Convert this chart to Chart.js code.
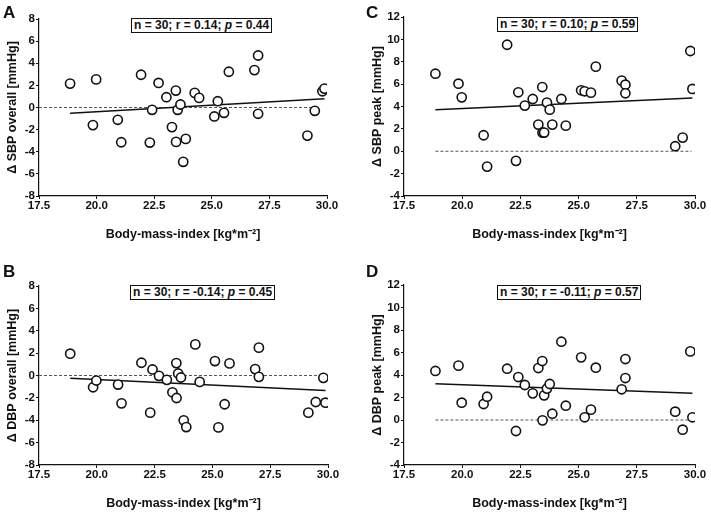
<!DOCTYPE html>
<html><head><meta charset="utf-8">
<script src="https://cdn.jsdelivr.net/npm/chart.js@4.4.1/dist/chart.umd.min.js"></script>
<style>
html,body{margin:0;padding:0;background:#fff;width:711px;height:514px;overflow:hidden;position:relative;font-family:"Liberation Sans",Arial,sans-serif;}
canvas{position:absolute;}
.lbl{position:absolute;font-weight:bold;font-size:17px;color:#111;line-height:1;}
.box{position:absolute;font-weight:bold;font-size:12px;color:#111;border:1.5px solid #111;line-height:13px;padding:0 2px;white-space:nowrap;background:#fff;}
</style></head><body>
<canvas id="cA"></canvas><canvas id="cB"></canvas><canvas id="cC"></canvas><canvas id="cD"></canvas>
<div class="lbl" style="left:3px;top:4px">A</div>
<div class="lbl" style="left:3px;top:263px">B</div>
<div class="lbl" style="left:366px;top:4px">C</div>
<div class="lbl" style="left:366px;top:263px">D</div>
<div class="box" style="left:131px;top:18px">n = 30; r = 0.14; <i>p</i> = 0.44</div>
<div class="box" style="left:130px;top:285px">n = 30; r = -0.14; <i>p</i> = 0.45</div>
<div class="box" style="left:497px;top:17px">n = 30; r = 0.10; <i>p</i> = 0.59</div>
<div class="box" style="left:497px;top:285px">n = 30; r = -0.11; <i>p</i> = 0.57</div>
<script>
// ---- data ----
const bmi = [18.85, 19.84, 19.98, 20.92, 21.07, 21.93, 22.31, 22.41, 22.69, 23.03,
             23.27, 23.44, 23.45, 23.52, 23.64, 23.76, 23.87, 24.26, 24.45, 25.11,
             25.26, 25.53, 25.74, 26.85, 27.01, 27.01, 29.15, 29.47, 29.80, 29.89];
const sbpOverall = [2.16, -1.59, 2.54, -1.11, -3.14, 2.96, -3.17, -0.21, 2.22, 0.93,
                    -1.77, 1.53, -3.11, -0.21, 0.27, -4.91, -2.84, 1.32, 0.87, -0.81,
                    0.57, -0.48, 3.23, 3.38, 4.70, -0.57, -2.54, -0.30, 1.47, 1.71];
const dbpOverall = [1.95, -1.05, -0.45, -0.81, -2.49, 1.14, -3.32, 0.54, -0.03, -0.39,
                    -1.50, 1.11, -2.01, 0.18, -0.18, -4.01, -4.61, 2.78, -0.57, 1.29,
                    -4.64, -2.57, 1.08, 0.57, 2.49, -0.12, -3.32, -2.37, -0.21, -2.43];
const sbpPeak = [6.93, 6.04, 4.82, 1.43, -1.37, 9.52, -0.86, 5.27, 4.08, 4.67,
                 2.38, 5.74, 1.67, 1.67, 4.35, 3.72, 2.38, 4.67, 2.29, 5.45,
                 5.36, 5.24, 7.56, 6.31, 5.95, 5.18, 0.45, 1.22, 8.96, 5.57];
const dbpPeak = [4.36, 4.83, 1.54, 1.42, 2.07, 4.56, -0.98, 3.82, 3.11, 2.37,
                 4.62, 5.24, -0.03, 2.19, 2.79, 3.20, 0.56, 6.96, 1.27, 5.57,
                 0.24, 0.92, 4.65, 2.73, 5.42, 3.73, 0.74, -0.86, 6.10, 0.24];
// regression line values at min / max BMI
const fitSbpOverall = [-0.51, 0.78];
const fitDbpOverall = [-0.24, -1.35];
const fitSbpPeak = [3.72, 4.76];
const fitDbpPeak = [3.23, 2.37];
// reference (zero) line extent in BMI
const zeroExtentOverall = [17.5, 29.65];
const zeroExtentPeak = [18.85, 29.85];
const xTicks = [17.5, 20.0, 22.5, 25.0, 27.5, 30.0];
const yTicksOverall = [-8, -6, -4, -2, 0, 2, 4, 6, 8];
const yTicksPeak = [-4, -2, 0, 2, 4, 6, 8, 10, 12];
const yTitles = ['Δ SBP overall [mmHg]', 'Δ DBP overall [mmHg]', 'Δ SBP peak [mmHg]', 'Δ DBP peak [mmHg]'];
const xTitle = 'Body-mass-index [kg*m⁻²]';

// ---- layout ----
const panels = [
  {id:'cA', x:0,   y:0,   w:355, h:257, area:{l:39, t:19, r:327, b:196}, ys:sbpOverall, fit:fitSbpOverall, zero:zeroExtentOverall, yt:yTicksOverall, title:yTitles[0], ytPad:5,  xtPad:15},
  {id:'cB', x:0,   y:257, w:355, h:257, area:{l:39, t:29, r:328, b:208}, ys:dbpOverall, fit:fitDbpOverall, zero:zeroExtentOverall, yt:yTicksOverall, title:yTitles[1], ytPad:5,  xtPad:3},
  {id:'cC', x:355, y:0,   w:356, h:257, area:{l:49, t:17, r:340, b:196}, ys:sbpPeak,    fit:fitSbpPeak,    zero:zeroExtentPeak,    yt:yTicksPeak,    title:yTitles[2], ytPad:15, xtPad:15},
  {id:'cD', x:355, y:257, w:356, h:257, area:{l:49, t:28, r:340, b:208}, ys:dbpPeak,    fit:fitDbpPeak,    zero:zeroExtentPeak,    yt:yTicksPeak,    title:yTitles[3], ytPad:15, xtPad:3}
];

const ink = '#111';
const tickFont = {family:'"Liberation Sans", Arial, sans-serif', size:11.5, weight:'bold'};
const titleFont = {family:'"Liberation Sans", Arial, sans-serif', size:12.5, weight:'bold'};

panels.forEach(p => {
  const cv = document.getElementById(p.id);
  cv.width = p.w; cv.height = p.h;
  cv.style.left = p.x + 'px'; cv.style.top = p.y + 'px';
  cv.style.width = p.w + 'px'; cv.style.height = p.h + 'px';
  const pts = bmi.map((x, i) => ({x, y: p.ys[i]}));
  const xmin = Math.min(...bmi), xmax = Math.max(...bmi);
  new Chart(cv, {
    type: 'scatter',
    data: {
      datasets: [
        {data: pts, pointRadius: 4.6, pointHoverRadius: 4.6, pointBorderWidth: 1.6,
         pointBackgroundColor: '#fff', pointBorderColor: ink, order: 0},
        {data: [{x: xmin, y: p.fit[0]}, {x: xmax, y: p.fit[1]}], showLine: true,
         borderColor: ink, borderWidth: 1.5, pointRadius: 0, order: 1},
        {data: [{x: p.zero[0], y: 0}, {x: p.zero[1], y: 0}], showLine: true,
         borderColor: '#555', borderWidth: 1.1, borderDash: [3, 2], pointRadius: 0, order: 2}
      ]
    },
    options: {
      responsive: false, animation: false, devicePixelRatio: 1,
      layout: {padding: {left: 0, top: p.area.t, right: p.w - p.area.r, bottom: 0}},
      plugins: {legend: {display: false}, tooltip: {enabled: false}},
      scales: {
        x: {
          type: 'linear', min: xTicks[0], max: xTicks[xTicks.length - 1],
          afterBuildTicks: s => { s.ticks = xTicks.map(v => ({value: v})); },
          afterFit: s => { s.height = p.h - p.area.b; },
          ticks: {color: ink, font: tickFont, padding: 0, maxRotation: 0, autoSkip: false,
                  callback: v => Number(v).toFixed(1)},
          grid: {display: true, drawOnChartArea: false, drawTicks: true, tickLength: 3, color: ink, lineWidth: 1},
          border: {display: true, color: ink, width: 1.2},
          title: {display: true, text: xTitle, color: ink, font: titleFont, padding: {top: 0, bottom: p.xtPad}}
        },
        y: {
          type: 'linear', min: p.yt[0], max: p.yt[p.yt.length - 1],
          afterBuildTicks: s => { s.ticks = p.yt.map(v => ({value: v})); },
          afterFit: s => { s.width = p.area.l; },
          ticks: {color: ink, font: tickFont, padding: 1, autoSkip: false,
                  callback: v => String(v)},
          grid: {display: true, drawOnChartArea: false, drawTicks: true, tickLength: 3, color: ink, lineWidth: 1},
          border: {display: true, color: ink, width: 1.2},
          title: {display: true, text: p.title, color: ink, font: titleFont, padding: {top: p.ytPad, bottom: 0}}
        }
      }
    }
  });
});
</script>
</body></html>
